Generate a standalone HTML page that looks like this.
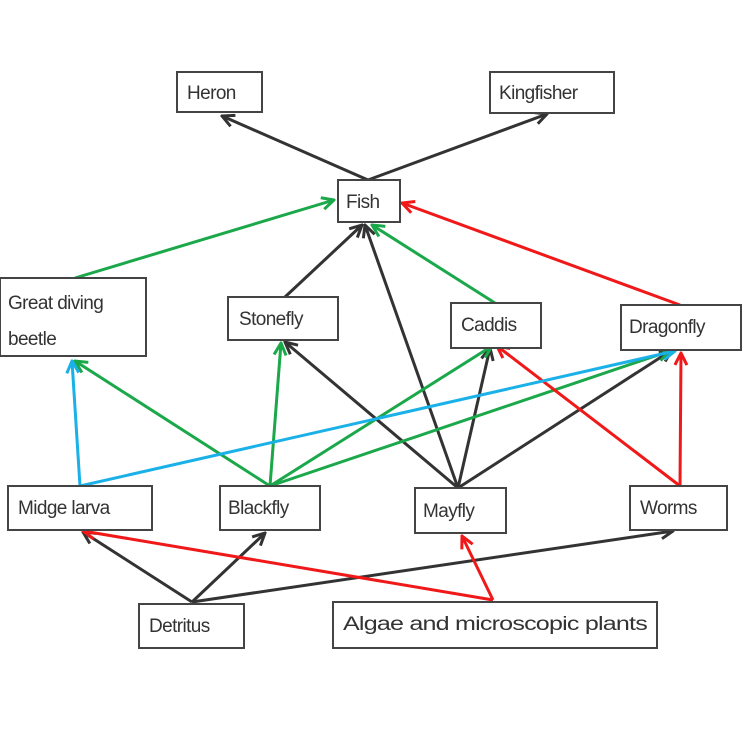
<!DOCTYPE html>
<html><head><meta charset="utf-8"><style>
html,body{margin:0;padding:0;background:#fff;width:750px;height:750px;overflow:hidden}
text{font-family:"Liberation Sans",sans-serif;font-size:19px;fill:#333;letter-spacing:-0.6px}
rect{fill:#fff;stroke:#444;stroke-width:2}
</style></head><body>
<svg width="750" height="750" viewBox="0 0 750 750" xmlns="http://www.w3.org/2000/svg">
<defs>
<marker id="k" viewBox="0 0 10 10" refX="9" refY="5" markerWidth="5" markerHeight="5" orient="auto"><path d="M1,1 L9,5 L1,9" fill="none" stroke="#333" stroke-width="2"/></marker>
<marker id="g" viewBox="0 0 10 10" refX="9" refY="5" markerWidth="5" markerHeight="5" orient="auto"><path d="M1,1 L9,5 L1,9" fill="none" stroke="#1aa84a" stroke-width="2"/></marker>
<marker id="r" viewBox="0 0 10 10" refX="9" refY="5" markerWidth="5" markerHeight="5" orient="auto"><path d="M1,1 L9,5 L1,9" fill="none" stroke="#f01818" stroke-width="2"/></marker>
<marker id="b" viewBox="0 0 10 10" refX="9" refY="5" markerWidth="5" markerHeight="5" orient="auto"><path d="M1,1 L9,5 L1,9" fill="none" stroke="#1ab0e8" stroke-width="2"/></marker>
</defs>
<g stroke-width="3" fill="none">
<g stroke="#333" marker-end="url(#k)">
<line x1="368" y1="180" x2="222" y2="116"/>
<line x1="368" y1="180" x2="547" y2="114"/>
<line x1="285" y1="297" x2="362" y2="225"/>
<line x1="458" y1="488" x2="365" y2="225"/>
<line x1="458" y1="488" x2="285" y2="342"/>
<line x1="458" y1="488" x2="490" y2="348"/>
<line x1="458" y1="488" x2="672" y2="350"/>
<line x1="192" y1="602" x2="83" y2="532"/>
<line x1="192" y1="602" x2="265" y2="533"/>
<line x1="192" y1="602" x2="673" y2="531"/>
</g>
<g stroke="#1aa84a" marker-end="url(#g)">
<line x1="75" y1="278" x2="334" y2="200"/>
<line x1="495" y1="303" x2="372" y2="225"/>
<line x1="270" y1="486" x2="75" y2="361"/>
<line x1="270" y1="486" x2="281" y2="343"/>
<line x1="270" y1="486" x2="492" y2="346"/>
<line x1="270" y1="486" x2="670" y2="351"/>
</g>
<g stroke="#f01818" marker-end="url(#r)">
<line x1="680" y1="305" x2="402" y2="203"/>
<line x1="680" y1="486" x2="497" y2="346"/>
<line x1="680" y1="486" x2="681" y2="353"/>
<line x1="493" y1="600" x2="83" y2="531"/>
<line x1="493" y1="600" x2="462" y2="536"/>
</g>
<g stroke="#1ab0e8" marker-end="url(#b)">
<line x1="80" y1="486" x2="72" y2="361"/>
<line x1="80" y1="486" x2="675" y2="351"/>
</g>
</g>
<rect x="177" y="72" width="85" height="40"/><text x="187" y="99">Heron</text>
<rect x="490" y="72" width="124" height="41"/><text x="499" y="99">Kingfisher</text>
<rect x="338" y="180" width="62" height="42"/><text x="346" y="208">Fish</text>
<rect x="0" y="278" width="146" height="78"/><text x="8" y="309">Great diving</text><text x="8" y="345">beetle</text>
<rect x="228" y="297" width="110" height="43"/><text x="239" y="325">Stonefly</text>
<rect x="451" y="303" width="90" height="45"/><text x="461" y="331">Caddis</text>
<rect x="621" y="305" width="120" height="45"/><text x="629" y="333">Dragonfly</text>
<rect x="8" y="486" width="144" height="44"/><text x="18" y="514">Midge larva</text>
<rect x="220" y="486" width="100" height="44"/><text x="228" y="514">Blackfly</text>
<rect x="415" y="488" width="91" height="45"/><text x="423" y="517">Mayfly</text>
<rect x="630" y="486" width="97" height="44"/><text x="640" y="514">Worms</text>
<rect x="139" y="604" width="105" height="44"/><text x="149" y="632">Detritus</text>
<rect x="333" y="602" width="324" height="46"/><text x="343" y="630" textLength="304" lengthAdjust="spacingAndGlyphs">Algae and microscopic plants</text>
</svg>
</body></html>
